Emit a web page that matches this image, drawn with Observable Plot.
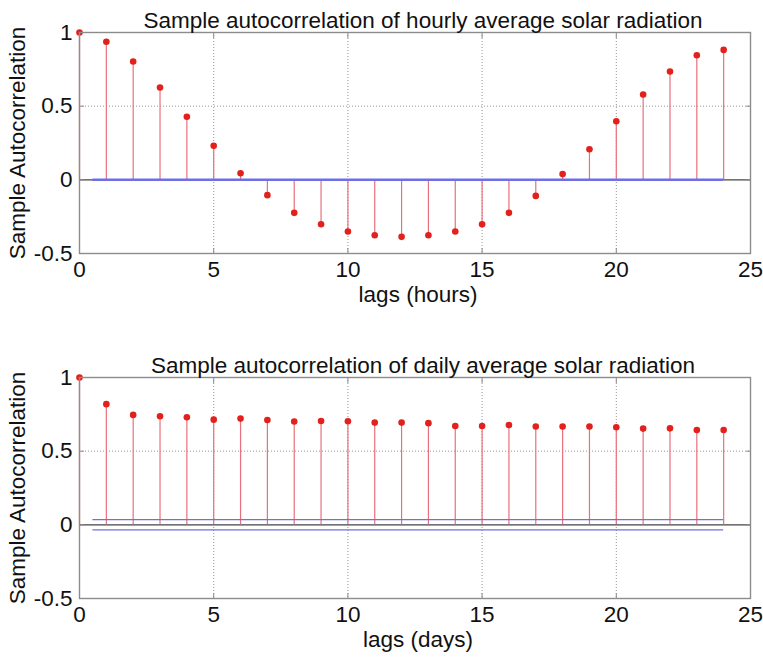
<!DOCTYPE html>
<html>
<head>
<meta charset="utf-8">
<script src="https://cdn.jsdelivr.net/npm/d3@7"></script>
<script src="https://cdn.jsdelivr.net/npm/@observablehq/plot@0.6"></script>
<style>
  html, body { margin: 0; padding: 0; background: #fff; }
  #chart svg { display: block; }
</style>
</head>
<body>
<div id="chart"></div>
<script>
// ---- data ----
const lags = d3.range(0, 25);
const hourlyAcf = [1, 0.937, 0.803, 0.627, 0.428, 0.231, 0.045, -0.104, -0.224, -0.301, -0.351, -0.376, -0.387,
  -0.376, -0.351, -0.301, -0.224, -0.109, 0.039, 0.208, 0.398, 0.579, 0.735, 0.846, 0.882];
const dailyAcf = [1, 0.819, 0.746, 0.737, 0.730, 0.714, 0.721, 0.712, 0.701, 0.705, 0.703, 0.694, 0.694,
  0.690, 0.671, 0.671, 0.678, 0.667, 0.667, 0.667, 0.662, 0.653, 0.655, 0.644, 0.644];
const hourlyBounds = [0.004, -0.004];
const dailyBounds = [0.036, -0.034];
const boundLags = [0.5, 24];
const xTicks = [0, 5, 10, 15, 20, 25];
const yTicks = [-0.5, 0, 0.5, 1];
const titles = ["Sample autocorrelation of hourly average solar radiation",
                "Sample autocorrelation of daily average solar radiation"];
const xLabels = ["lags (hours)", "lags (days)"];
const yLabel = "Sample Autocorrelation";

const FONT = "'Liberation Sans', Arial, sans-serif";
const FS = 22.5;

function panel(acf, bounds, title, xLabel, height, marginBottom) {
  const data = lags.map((l, i) => ({lag: l, acf: acf[i]}));
  const bData = bounds.map(b => ({y: b, x1: boundLags[0], x2: boundLags[1]}));
  return Plot.plot({
    width: 763,
    height,
    marginLeft: 79,
    marginRight: 13,
    marginTop: 32,
    marginBottom,
    style: {fontFamily: FONT, fontSize: FS + "px", color: "#111", background: "#fff"},
    x: {domain: [0, 25], ticks: xTicks},
    y: {domain: [-0.5, 1], ticks: yTicks},
    marks: [
      Plot.gridX([5, 10, 15, 20], {stroke: "#666", strokeOpacity: 0.7, strokeDasharray: "1,2"}),
      Plot.gridY([0.5], {stroke: "#666", strokeOpacity: 0.7, strokeDasharray: "1,2"}),
      Plot.ruleY([0], {stroke: "#444", strokeWidth: 1.2}),
      Plot.ruleX(data, {x: "lag", y1: 0, y2: "acf", stroke: "#e8707c", strokeWidth: 1.2}),
      Plot.ruleY(bData, {y: "y", x1: "x1", x2: "x2", stroke: "#6f6fe4", strokeWidth: 1.3}),
      Plot.dot(data, {x: "lag", y: "acf", r: 3.3, fill: "#e3211c", stroke: "none"}),
      Plot.frame({stroke: "#8c8c8c", strokeWidth: 1.4}),
      Plot.axisX({anchor: "bottom", ticks: xTicks, tickSize: 0, tickPadding: 8, fontSize: FS, label: null, tickFormat: d => String(d)}),
      Plot.axisX({anchor: "bottom", ticks: [5, 10, 15, 20], tickSize: -5, tickFormat: () => "", label: null, stroke: "#8c8c8c"}),
      Plot.axisX({anchor: "top", ticks: [5, 10, 15, 20], tickSize: -5, tickFormat: () => "", label: null, stroke: "#8c8c8c"}),
      Plot.axisY({anchor: "left", ticks: yTicks, tickSize: 0, tickPadding: 7, fontSize: FS, label: null, tickFormat: d => String(d)}),
      Plot.axisY({anchor: "left", ticks: [0, 0.5], tickSize: -5, tickFormat: () => "", label: null, stroke: "#8c8c8c"}),
      Plot.axisY({anchor: "right", ticks: [0, 0.5], tickSize: -5, tickFormat: () => "", label: null, stroke: "#8c8c8c"}),
      Plot.text([title], {frameAnchor: "top", dy: -20, dx: 8, textAnchor: "middle", fontSize: FS, fill: "#111"}),
      Plot.text([xLabel], {frameAnchor: "bottom", dy: 48, dx: 3, textAnchor: "middle", fontSize: FS, fill: "#111"}),
      Plot.text([yLabel], {frameAnchor: "left", dx: -62, rotate: -90, textAnchor: "middle", fontSize: FS, fill: "#111"})
    ]
  });
}

const chart = document.getElementById("chart");
chart.append(panel(hourlyAcf, hourlyBounds, titles[0], xLabels[0], 345, 92));
chart.append(panel(dailyAcf, dailyBounds, titles[1], xLabels[1], 314, 61));
</script>
</body>
</html>
